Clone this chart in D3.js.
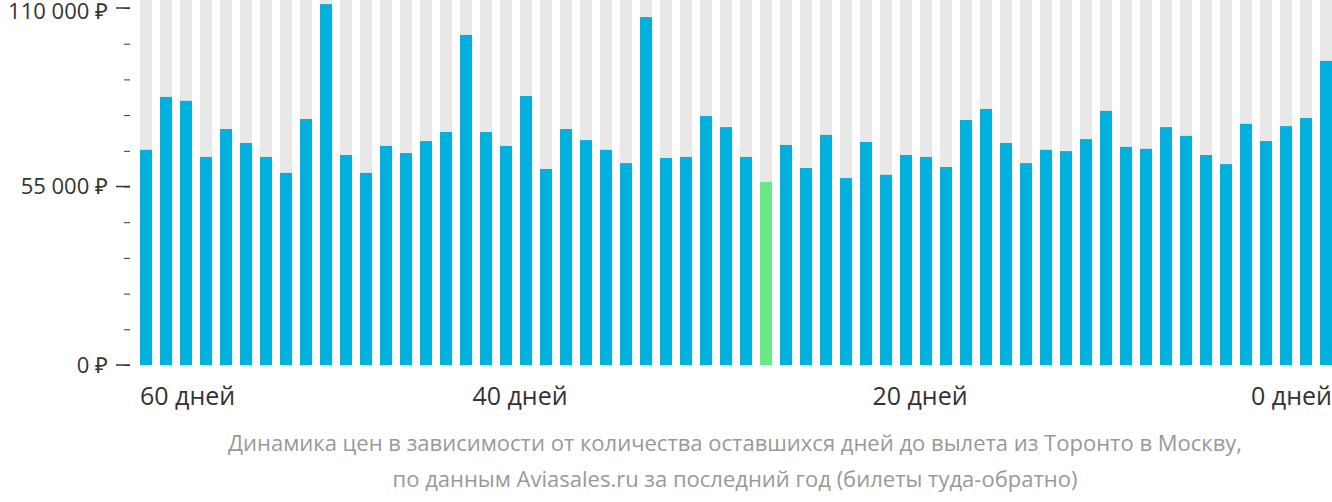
<!DOCTYPE html><html><head><meta charset="utf-8">
<script src="https://cdn.jsdelivr.net/npm/d3@7"></script>
<style>body{margin:0;background:#fff;font-family:"Open Sans",sans-serif}</style></head><body>
<svg id="c" width="1332" height="502"></svg>
<script>
const days = d3.range(59,-1,-1);
const prices = [66300,82600,81400,64100,72700,68400,64100,59200,75800,111200,64700,59200,67500,65300,69000,71800,101700,71800,67500,82900,60400,72700,69300,66300,62200,107200,63800,64100,76700,73300,64100,56400,67800,60700,70900,57600,68700,58600,64700,64100,61000,75500,78900,68400,62200,66300,65900,69600,78300,67200,66600,73300,70600,64700,61900,74300,69000,73600,76100,93700];
const minDay = 28;
const yTicks = [0,55000,110000];
const xLabels = [{d:60,t:"60 дней",a:"start"},{d:40,t:"40 дней",a:"middle"},{d:20,t:"20 дней",a:"middle"},{d:0,t:"0 дней",a:"end"}];
const caption = ["Динамика цен в зависимости от количества оставшихся дней до вылета из Торонто в Москву,","по данным Aviasales.ru за последний год (билеты туда-обратно)"];

const svg = d3.select("#c");
const x = d3.scaleBand().domain(days).range([140,1332]).paddingInner(0.4).paddingOuter(0);
const y = d3.scaleLinear().domain([0,110000]).range([365,8]);
svg.selectAll(".bg").data(days).join("rect").attr("x",d=>x(d)).attr("width",x.bandwidth()).attr("y",0).attr("height",y(0)).attr("fill","#e8e8e8");
svg.selectAll(".b").data(prices).join("rect").attr("x",(d,i)=>x(days[i])).attr("width",x.bandwidth())
 .attr("y",d=>y(d)).attr("height",d=>y(0)-y(d)).attr("fill",(d,i)=>days[i]===minDay?"#6ae886":"#00b0dd");
const ax = svg.append("g").attr("transform","translate(130,0)")
 .call(d3.axisLeft(y).tickValues(d3.range(0,110001,11000)).tickSize(6).tickFormat(""));
ax.select(".domain").remove();
ax.selectAll("line").attr("stroke","#333");
const maj = svg.append("g");
yTicks.forEach(v=>{
 maj.append("line").attr("x1",116).attr("x2",130).attr("y1",y(v)).attr("y2",y(v)).attr("stroke","#333").attr("stroke-width",1.5);
 maj.append("text").attr("x",108).attr("y",Math.max(y(v),11)).attr("dy","0.35em").attr("text-anchor","end").attr("font-size",22).attr("fill","#333").text(d3.format(",")(v).replace(/,/g," ")+" ₽");
});
xLabels.forEach(l=>{
 const cx = l.a==="start"?140:l.a==="end"?1332:x(l.d);
 svg.append("text").attr("x",cx).attr("y",405).attr("text-anchor",l.a).attr("font-size",25).attr("fill","#333").text(l.t);
});
caption.forEach((t,i)=>svg.append("text").attr("x",735).attr("y",451+i*36).attr("text-anchor","middle").attr("font-size",22).attr("fill","#999").text(t));
</script></body></html>
